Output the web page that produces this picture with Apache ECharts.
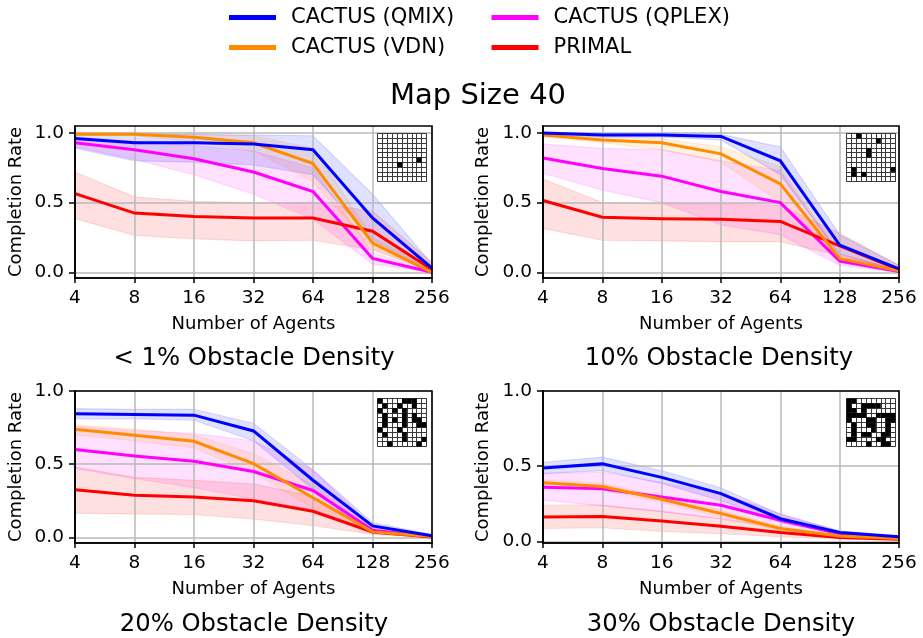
<!DOCTYPE html>
<html><head><meta charset="utf-8">
<script src="https://cdn.jsdelivr.net/npm/echarts@6/dist/echarts.min.js"></script>
<style>html,body{margin:0;padding:0;background:#fff}#c{width:923px;height:638px}</style></head>
<body><div id="c"></div>
<script>
const agents = ['4','8','16','32','64','128','256'];
const yTicks = [0, 0.5, 1];

// Panel A: < 1% obstacle density
const a_qmix = [.96,.93,.93,.92,.88,.39,.03];
const a_qmix_lo = [.89,.80,.79,.77,.70,.23,.01];
const a_qmix_hi = [.99,.99,.99,.985,.98,.56,.06];
const a_vdn = [.99,.99,.97,.93,.78,.21,.0];
const a_vdn_lo = [.98,.98,.94,.87,.65,.17,0];
const a_vdn_hi = [1,1,.99,.98,.89,.25,.03];
const a_qplex = [.93,.88,.815,.72,.58,.10,0];
const a_qplex_lo = [.90,.81,.70,.56,.38,.06,0];
const a_qplex_hi = [.97,.94,.91,.87,.75,.14,.01];
const a_primal = [.565,.425,.40,.39,.39,.295,.02];
const a_primal_lo = [.385,.265,.24,.225,.23,.16,.01];
const a_primal_hi = [.72,.54,.51,.50,.50,.44,.07];

// Panel B: 10% obstacle density
const b_qmix = [1,.985,.985,.975,.80,.195,.025];
const b_qmix_lo = [.99,.97,.97,.95,.70,.13,.01];
const b_qmix_hi = [1,1,1,.99,.90,.27,.05];
const b_vdn = [.985,.95,.93,.85,.635,.10,.01];
const b_vdn_lo = [.97,.93,.88,.79,.50,.07,0];
const b_vdn_hi = [1,.97,.96,.90,.76,.13,.03];
const b_qplex = [.82,.745,.69,.58,.50,.08,.005];
const b_qplex_lo = [.71,.59,.50,.34,.27,.05,0];
const b_qplex_hi = [.92,.89,.88,.80,.73,.12,.02];
const b_primal = [.515,.395,.385,.38,.365,.19,.02];
const b_primal_lo = [.315,.23,.225,.22,.22,.12,.01];
const b_primal_hi = [.67,.50,.49,.49,.48,.28,.05];

// Panel C: 20% obstacle density
const c_qmix = [.845,.84,.835,.727,.39,.078,.01];
const c_qmix_lo = [.81,.81,.80,.66,.33,.06,.005];
const c_qmix_hi = [.88,.875,.875,.78,.46,.10,.02];
const c_vdn = [.738,.697,.656,.503,.27,.037,.005];
const c_vdn_lo = [.70,.66,.61,.44,.20,.025,0];
const c_vdn_hi = [.77,.74,.70,.57,.36,.05,.01];
const c_qplex = [.60,.556,.52,.45,.32,.048,.002];
const c_qplex_lo = [.47,.40,.34,.26,.19,.03,0];
const c_qplex_hi = [.76,.73,.71,.66,.46,.07,.01];
const c_primal = [.325,.287,.275,.25,.178,.036,.002];
const c_primal_lo = [.165,.16,.155,.125,.08,.02,0];
const c_primal_hi = [.48,.41,.39,.365,.28,.05,.005];

// Panel D: 30% obstacle density
const d_qmix = [.488,.515,.425,.317,.15,.058,.03];
const d_qmix_lo = [.45,.47,.385,.27,.125,.045,.02];
const d_qmix_hi = [.525,.56,.47,.355,.18,.07,.035];
const d_vdn = [.39,.365,.28,.185,.085,.035,.018];
const d_vdn_lo = [.37,.34,.26,.16,.07,.03,.01];
const d_vdn_hi = [.41,.385,.30,.21,.10,.04,.025];
const d_qplex = [.36,.35,.295,.24,.14,.05,.018];
const d_qplex_lo = [.275,.235,.195,.15,.09,.035,.01];
const d_qplex_hi = [.45,.46,.39,.32,.185,.065,.025];
const d_primal = [.162,.165,.135,.10,.058,.025,.013];
const d_primal_lo = [.085,.09,.065,.05,.03,.015,.008];
const d_primal_hi = [.24,.24,.20,.15,.085,.035,.02];

// Map insets: occupied cells as [col, row]
const a_map = [[4,6],[8,5]];
const b_map = [[2,0],[6,1],[4,3],[4,4],[1,7],[1,8],[3,8],[9,7]];
const c_map = [[0,0],[5,0],[6,0],[7,0],[1,1],[4,1],[7,1],[0,2],[3,2],[5,2],[1,3],[5,3],[7,3],[1,4],[3,4],[5,4],[7,4],[8,4],[1,5],[5,5],[8,5],[9,5],[0,6],[4,6],[1,7],[5,7],[5,8],[9,8],[2,9],[8,9]];
const d_map = [[0,0],[1,0],[0,1],[3,1],[4,1],[5,1],[6,1],[0,2],[1,2],[3,2],[0,3],[1,3],[2,3],[3,3],[6,3],[7,3],[8,3],[9,3],[0,4],[4,4],[5,4],[8,4],[9,4],[1,5],[4,5],[5,5],[8,5],[1,6],[5,6],[8,6],[1,7],[3,7],[4,7],[7,7],[8,7],[0,8],[1,8],[6,8],[7,8],[4,9],[7,9],[8,9]];

const names = {qmix:'CACTUS (QMIX)', vdn:'CACTUS (VDN)', qplex:'CACTUS (QPLEX)', primal:'PRIMAL'};
const colors = {qmix:'#0000ff', vdn:'#ff8c00', qplex:'#ff00ff', primal:'#ff0000'};
const rgb = {qmix:'0,0,255', vdn:'255,140,0', qplex:'255,0,255', primal:'255,0,0'};
const font = 'DejaVu Sans';
const drawOrder = ['qplex','primal','vdn','qmix'];

const panels = [
  {title:'< 1% Obstacle Density', tx:254, ty:357, left:75, top:126, w:357, h:152, min:-0.041, max:1.05, ix:377.5, iy:133.5, map:a_map, nameX:16,
   d:{qmix:[a_qmix,a_qmix_lo,a_qmix_hi],vdn:[a_vdn,a_vdn_lo,a_vdn_hi],qplex:[a_qplex,a_qplex_lo,a_qplex_hi],primal:[a_primal,a_primal_lo,a_primal_hi]}},
  {title:'10% Obstacle Density', tx:719, ty:357, left:543, top:126, w:356, h:152, min:-0.041, max:1.05, ix:846.5, iy:133.5, map:b_map, nameX:483,
   d:{qmix:[b_qmix,b_qmix_lo,b_qmix_hi],vdn:[b_vdn,b_vdn_lo,b_vdn_hi],qplex:[b_qplex,b_qplex_lo,b_qplex_hi],primal:[b_primal,b_primal_lo,b_primal_hi]}},
  {title:'20% Obstacle Density', tx:254, ty:623, left:75, top:391, w:357, h:152, min:-0.039, max:1, ix:377.5, iy:398.5, map:c_map, nameX:16,
   d:{qmix:[c_qmix,c_qmix_lo,c_qmix_hi],vdn:[c_vdn,c_vdn_lo,c_vdn_hi],qplex:[c_qplex,c_qplex_lo,c_qplex_hi],primal:[c_primal,c_primal_lo,c_primal_hi]}},
  {title:'30% Obstacle Density', tx:721, ty:623, left:543, top:391, w:356, h:152, min:-0.0115, max:1, ix:846.5, iy:398.5, map:d_map, nameX:483,
   d:{qmix:[d_qmix,d_qmix_lo,d_qmix_hi],vdn:[d_vdn,d_vdn_lo,d_vdn_hi],qplex:[d_qplex,d_qplex_lo,d_qplex_hi],primal:[d_primal,d_primal_lo,d_primal_hi]}}
];

const grid=[], xAxis=[], yAxis=[], series=[], title=[], n=panels.length;
const gridLine = {show:true, lineStyle:{color:'#b9b9b9', width:1.5}};
const tick = (len)=>({show:true, length:len, lineStyle:{color:'#000', width:1.5}});

title.push({text:'Map Size 40', left:478, top:96, padding:0, textAlign:'center', textVerticalAlign:'middle',
  textStyle:{fontFamily:font, fontSize:29, fontWeight:'normal', color:'#000'}});

panels.forEach((p,i)=>{
  grid[i]={left:p.left, top:p.top, width:p.w, height:p.h, z:5, show:true, backgroundColor:'transparent', borderColor:'#000', borderWidth:1.6};
  xAxis[i]={type:'category', gridIndex:i, data:agents, boundaryGap:false, name:'Number of Agents', nameLocation:'middle', nameGap:37,
    nameTextStyle:{fontFamily:font, fontSize:18, color:'#000'},
    axisLine:{show:true, onZero:false, lineStyle:{color:'#000', width:1.6}}, axisTick:{...tick(5), alignWithLabel:true, interval:0},
    axisLabel:{fontFamily:font, fontSize:18.5, color:'#000', margin:11, interval:0, hideOverlap:false},
    splitLine:{...gridLine, interval:0}};
  yAxis[i]={type:'value', gridIndex:i, min:p.min, max:p.max, name:'Completion Rate', nameLocation:'middle', nameGap:p.left-p.nameX-9, nameRotate:90,
    nameTextStyle:{fontFamily:font, fontSize:18, color:'#000'},
    axisLine:{show:true, onZero:false, lineStyle:{color:'#000', width:1.6}},
    axisTick:{...tick(6), customValues:yTicks},
    axisLabel:{fontFamily:font, fontSize:18.5, color:'#000', margin:11, customValues:yTicks, formatter:v=>Number(v).toFixed(1)},
    splitLine:gridLine};
  // shaded bands
  drawOrder.forEach(k=>{
    const [mean,lo,hi]=p.d[k];
    series.push({type:'custom', name:names[k], xAxisIndex:i, yAxisIndex:i, z:-1, silent:true, legendHoverLink:false,
      itemStyle:{color:colors[k]},
      data:agents.map((a,j)=>[j,lo[j],hi[j]]), encode:{x:0,y:[1,2]},
      renderItem:(params,api)=>{
        if(params.dataIndex!==0) return null;
        const pts=[];
        hi.forEach((v,j)=>pts.push(api.coord([j,v])));
        for(let j=lo.length-1;j>=0;j--) pts.push(api.coord([j,lo[j]]));
        return {type:'polygon', shape:{points:pts}, style:{fill:`rgba(${rgb[k]},0.12)`, stroke:`rgba(${rgb[k]},0.12)`, lineWidth:1.2}};
      }});
  });
  // mean lines
  drawOrder.forEach((k,o)=>{
    series.push({type:'line', name:names[k], xAxisIndex:i, yAxisIndex:i, z:3+o*0.01, data:p.d[k][0], symbol:'none', silent:true,
      itemStyle:{color:colors[k]}, lineStyle:{color:colors[k], width:3, join:'miter'}, animation:false});
  });
  // map inset
  const g=n+i;
  grid[g]={left:p.ix, top:p.iy, width:49, height:48, z:1, show:true, backgroundColor:'#fff', borderColor:'#999', borderWidth:1};
  const insetLine={show:true, lineStyle:{color:'#3a3a3a', width:1}};
  xAxis[g]={type:'value', gridIndex:g, min:0, max:10, interval:1, axisLine:{show:false}, axisTick:{show:false}, axisLabel:{show:false}, splitLine:insetLine, z:2};
  yAxis[g]={type:'value', gridIndex:g, min:0, max:10, interval:1, inverse:true, axisLine:{show:false}, axisTick:{show:false}, axisLabel:{show:false}, splitLine:insetLine, z:2};
  series.push({type:'custom', name:'map', xAxisIndex:g, yAxisIndex:g, z:4, silent:true, data:p.map, encode:{x:0,y:1},
    renderItem:(params,api)=>{
      const c=api.value(0), r=api.value(1);
      const a=api.coord([c,r]), b=api.coord([c+1,r+1]);
      return {type:'rect', shape:{x:a[0],y:a[1],width:b[0]-a[0],height:b[1]-a[1]}, style:{fill:'#000'}};
    }});
  title.push({text:p.title, left:p.tx, top:p.ty+2, padding:0, textAlign:'center', textVerticalAlign:'middle',
    textStyle:{fontFamily:font, fontSize:24.3, fontWeight:'normal', color:'#000'}});
});

const legendBase={orient:'vertical', top:7, itemWidth:47, itemHeight:5, itemGap:9, icon:'rect', selectedMode:false,
  textStyle:{fontFamily:font, fontSize:21, color:'#000', padding:[0,0,0,10]}, padding:0};
const legend=[
  {...legendBase, left:229, data:[names.qmix, names.vdn]},
  {...legendBase, left:491.5, data:[names.qplex, names.primal]}
];

const chart=echarts.init(document.getElementById('c'),null,{renderer:'canvas'});
chart.setOption({animation:false, backgroundColor:'#fff', title, legend, grid, xAxis, yAxis, series});
</script></body></html>
